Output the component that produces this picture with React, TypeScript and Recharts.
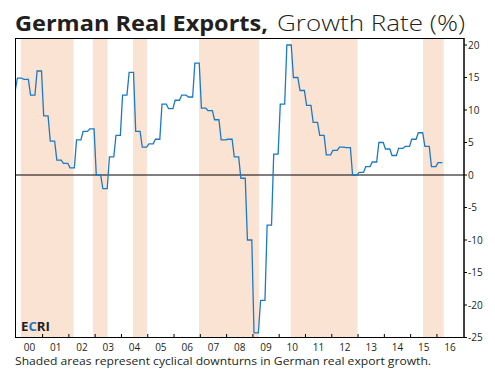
import { LineChart, Line, XAxis, YAxis, ReferenceArea, ReferenceLine } from 'recharts';

// monthly growth, Dec 1999 .. Mar 2016 (quarterly figures held for each month)
const growth = [
  13.0,
  14.9, 14.9, 14.9, 14.7, 14.7, 14.7, 12.3, 12.3, 12.3, 16.0, 16.0, 16.0, // 2000
  9.1, 9.1, 9.1, 5.2, 5.2, 5.2, 2.3, 2.3, 2.3, 1.8, 1.8, 1.8, // 2001
  1.1, 1.1, 1.1, 5.4, 5.4, 5.4, 6.7, 6.7, 6.7, 7.1, 7.1, 7.1, // 2002
  0.0, 0.0, 0.0, -2.1, -2.1, -2.1, 2.8, 2.8, 2.8, 6.1, 6.1, 6.1, // 2003
  12.3, 12.3, 12.3, 15.8, 15.8, 15.8, 6.7, 6.7, 6.7, 4.3, 4.3, 4.3, // 2004
  4.8, 4.8, 4.8, 5.5, 5.5, 5.5, 10.9, 10.9, 10.9, 10.2, 10.2, 10.2, // 2005
  11.5, 11.5, 11.5, 12.3, 12.3, 12.3, 12.0, 12.0, 12.0, 17.2, 17.2, 17.2, // 2006
  10.3, 10.3, 10.3, 9.9, 9.9, 9.9, 8.5, 8.5, 8.5, 5.4, 5.4, 5.4, // 2007
  5.5, 5.5, 5.5, 2.8, 2.8, 2.8, -0.5, -0.5, -0.5, -10.0, -10.0, -10.0, // 2008
  -24.3, -24.3, -24.3, -19.3, -19.3, -19.3, -7.7, -7.7, -7.7, 3.2, 3.2, 3.2, // 2009
  10.9, 10.9, 10.9, 20.0, 20.0, 20.0, 15.0, 15.0, 15.0, 13.0, 13.0, 13.0, // 2010
  10.7, 10.7, 10.7, 8.1, 8.1, 8.1, 6.1, 6.1, 6.1, 3.1, 3.1, 3.1, // 2011
  3.8, 3.8, 3.8, 4.3, 4.3, 4.3, 4.2, 4.2, 4.2, 0.0, 0.0, 0.0, // 2012
  0.4, 0.4, 0.4, 1.3, 1.3, 1.3, 2.0, 2.0, 2.0, 5.0, 5.0, 5.0, // 2013
  4.0, 4.0, 4.0, 3.0, 3.0, 3.0, 4.1, 4.1, 4.1, 4.4, 4.4, 4.4, // 2014
  5.5, 5.5, 5.5, 6.5, 6.5, 6.5, 4.4, 4.4, 4.4, 1.3, 1.3, 1.3, // 2015
  1.9, 1.9, 1.9, // 2016
];

const downturnStart = [2000.17, 2002.91, 2004.44, 2006.95, 2010.44, 2015.47];
const downturnEnd = [2002.18, 2003.47, 2004.97, 2009.23, 2012.98, 2016.26];

const yearTicks = [2000, 2001, 2002, 2003, 2004, 2005, 2006, 2007, 2008, 2009, 2010, 2011, 2012, 2013, 2014, 2015, 2016];
const yearLabels = ['00', '01', '02', '03', '04', '05', '06', '07', '08', '09', '10', '11', '12', '13', '14', '15', '16'];
const valueTicks = [-25, -20, -15, -10, -5, 0, 5, 10, 15, 20];

const data = growth.map((v, i) => ({ t: 1999 + (11 + i + 0.5) / 12, v }));

const FONT = '"Open Sans", sans-serif';
const TEXT = '#231f20';

function YearTick({ x, y, payload }: any) {
  const i = yearTicks.indexOf(payload.value);
  return (
    <g>
      {payload.value > 2000 && <line x1={x} x2={x} y1={y} y2={y - 3.5} stroke="#000" strokeWidth={1} />}
      <text x={x + 13.1} y={y + 13} textAnchor="middle" fontSize={10} fill={TEXT} fontFamily={FONT}>
        {yearLabels[i]}
      </text>
    </g>
  );
}

export default function App() {
  return (
    <div style={{ position: 'absolute', left: 0, top: 0, width: 495, height: 375, background: '#fff', fontFamily: FONT }}>
      <LineChart width={495} height={375} data={data} margin={{ top: 38, right: 0, bottom: 0, left: 15 }}>
        {downturnStart.map((s, i) => (
          <ReferenceArea key={i} x1={s} x2={downturnEnd[i]} fill="#fbe3d4" fillOpacity={1} stroke="none" />
        ))}
        <XAxis
          dataKey="t"
          type="number"
          domain={[1999.95, 2017.03]}
          allowDataOverflow
          ticks={yearTicks}
          interval={0}
          height={37.5}
          tickSize={0}
          tickMargin={0}
          tickLine={false}
          axisLine={{ stroke: '#000' }}
          tick={<YearTick />}
        />
        <YAxis
          orientation="right"
          domain={[-25, 21.08]}
          allowDataOverflow
          ticks={valueTicks}
          interval={0}
          width={31}
          tickSize={3}
          tickMargin={1}
          tickLine={{ stroke: '#000' }}
          axisLine={{ stroke: '#000' }}
          tick={{ fontSize: 10, fill: TEXT, fontFamily: FONT }}
        />
        <ReferenceLine y={0} stroke="#000" strokeWidth={1} />
        <Line type="linear" dataKey="v" stroke="#1a7ac4" strokeWidth={1.3} dot={false} isAnimationActive={false} />
      </LineChart>
      <svg width={495} height={375} style={{ position: 'absolute', left: 0, top: 0, pointerEvents: 'none' }}>
        <rect x={15.5} y={38.5} width={448.5} height={299} fill="none" stroke="#000" strokeWidth={1} />
        <text x={15} y={30.5} fontSize={22} fontWeight={700} fill={TEXT} fontFamily={FONT} textLength={253} lengthAdjust="spacingAndGlyphs">
          German Real Exports,
        </text>
        <text x={277} y={30.5} fontSize={22} fontWeight={300} fill={TEXT} fontFamily={FONT} textLength={188} lengthAdjust="spacingAndGlyphs">
          Growth Rate (%)
        </text>
        <text x={21} y={330.7} fontSize={12.5} fontWeight={700} fontFamily={FONT} textLength={29} lengthAdjust="spacingAndGlyphs">
          <tspan fill={TEXT}>E</tspan>
          <tspan fill="#1a7ac4">C</tspan>
          <tspan fill={TEXT}>RI</tspan>
        </text>
        <text x={15} y={365} fontSize={11.5} fill={TEXT} fontFamily={FONT} textLength={416} lengthAdjust="spacingAndGlyphs">
          Shaded areas represent cyclical downturns in German real export growth.
        </text>
      </svg>
    </div>
  );
}
